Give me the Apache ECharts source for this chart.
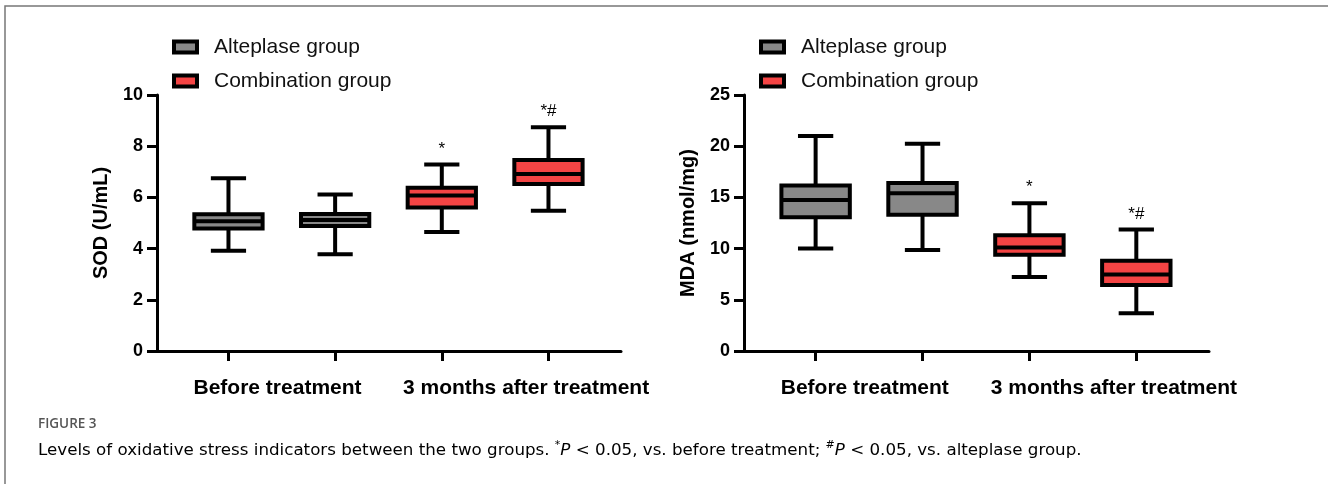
<!DOCTYPE html>
<html>
<head>
<meta charset="utf-8">
<script src="https://cdn.jsdelivr.net/npm/echarts@6.0.0/dist/echarts.min.js"></script>
<style>
    html, body { margin: 0; padding: 0; background: #fff; }
    #main { width: 1328px; height: 484px; }
</style>
</head>
<body>
<div id="main"></div>
<script>
    // box stats: [min, Q1, median, Q3, max]
    var groupNames = ['Alteplase group', 'Combination group'];
    var timeLabels = ['Before treatment', '3 months after treatment'];
    var labelPos = [0.46, 2.79];
    var boxPos = [0, 1, 2, 3];
    var boxGroup = [0, 0, 1, 1];
    var sigMarks = ['', '', '*', '*#'];

    var sodStats = [
        [3.92, 4.79, 5.07, 5.34, 6.75],
        [3.78, 4.88, 5.12, 5.35, 6.11],
        [4.65, 5.61, 6.07, 6.38, 7.29],
        [5.48, 6.52, 6.91, 7.46, 8.74]
    ];
    var mdaStats = [
        [10.0, 13.05, 14.75, 16.15, 21.0],
        [9.87, 13.3, 15.4, 16.4, 20.25],
        [7.22, 9.41, 10.1, 11.3, 14.44],
        [3.69, 6.44, 7.48, 8.82, 11.86]
    ];
    var sodTicks = [0, 10, 2];
    var mdaTicks = [0, 25, 5];

    var colors = ['#888888', '#f44444'];
    var fontMain = '"Liberation Sans", Arial, sans-serif';
    var fontCap = '"DejaVu Sans", sans-serif';

    function boxData(stats, g) {
        var out = [];
        for (var i = 0; i < stats.length; i++) {
            if (boxGroup[i] !== g) continue;
            out.push([boxPos[i]].concat(stats[i]).concat([sigMarks[i]]));
        }
        return out;
    }

    function renderBox(params, api) {
        var x = api.value(0);
        var lo = api.coord([x, api.value(1)]);
        var q1 = api.coord([x, api.value(2)]);
        var md = api.coord([x, api.value(3)]);
        var q3 = api.coord([x, api.value(4)]);
        var hi = api.coord([x, api.value(5)]);
        var unit = api.size([1, 0])[0];
        var bw = unit * 0.64;
        var cw = unit * 0.33;
        var cx = lo[0];
        var ls = { stroke: '#000', lineWidth: 4 };
        var kids = [
            { type: 'line', shape: { x1: cx, y1: hi[1], x2: cx, y2: q3[1] }, style: ls },
            { type: 'line', shape: { x1: cx, y1: q1[1], x2: cx, y2: lo[1] }, style: ls },
            { type: 'line', shape: { x1: cx - cw / 2, y1: hi[1], x2: cx + cw / 2, y2: hi[1] }, style: ls },
            { type: 'line', shape: { x1: cx - cw / 2, y1: lo[1], x2: cx + cw / 2, y2: lo[1] }, style: ls },
            { type: 'rect', shape: { x: cx - bw / 2, y: q3[1], width: bw, height: q1[1] - q3[1] },
              style: { fill: api.visual('color'), stroke: '#000', lineWidth: 4 } },
            { type: 'line', shape: { x1: cx - bw / 2, y1: md[1], x2: cx + bw / 2, y2: md[1] }, style: ls }
        ];
        var mark = api.value(6);
        if (mark) {
            kids.push({
                type: 'text', x: cx, y: hi[1] - 7,
                style: { text: mark, fill: '#000', font: '17px ' + fontMain, textAlign: 'center', textVerticalAlign: 'bottom' }
            });
        }
        return { type: 'group', children: kids };
    }

    function legendFor(left) {
        return {
            left: left, top: 35, orient: 'vertical', itemGap: 10, padding: 0,
            icon: 'rect', itemWidth: 23, itemHeight: 11,
            textStyle: { fontSize: 21, color: '#111', fontFamily: fontMain, lineHeight: 24, padding: [0, 0, 0, 12] },
            data: [
                { name: groupNames[0], itemStyle: { color: colors[0], borderColor: '#000', borderWidth: 4 } },
                { name: groupNames[1], itemStyle: { color: colors[1], borderColor: '#000', borderWidth: 4 } }
            ]
        };
    }

    function xAxisFor(gi) {
        return {
            type: 'value', gridIndex: gi, min: -0.67, max: 3.68,
            splitLine: { show: false },
            axisLine: { onZero: false, lineStyle: { color: '#000', width: 3 } },
            axisTick: { customValues: boxPos, length: 10, lineStyle: { color: '#000', width: 3 } },
            axisLabel: {
                customValues: labelPos, margin: 27,
                fontSize: 21, fontWeight: 'bold', color: '#000', fontFamily: fontMain,
                formatter: function (v) { return v < 1.5 ? timeLabels[0] : timeLabels[1]; }
            }
        };
    }

    function yAxisFor(gi, name, t) {
        return {
            type: 'value', gridIndex: gi, min: t[0], max: t[1], interval: t[2],
            name: name, nameLocation: 'middle', nameGap: 46,
            nameTextStyle: { fontSize: 20, fontWeight: 'bold', color: '#000', fontFamily: fontMain },
            splitLine: { show: false },
            axisLine: { show: true, onZero: false, lineStyle: { color: '#000', width: 3 } },
            axisTick: { show: true, length: 10, lineStyle: { color: '#000', width: 3 } },
            axisLabel: { margin: 14, fontSize: 18, fontWeight: 'bold', color: '#000', fontFamily: fontMain }
        };
    }

    function seriesFor(gi, stats) {
        return [0, 1].map(function (g) {
            return {
                name: groupNames[g], type: 'custom', xAxisIndex: gi, yAxisIndex: gi,
                itemStyle: { color: colors[g] },
                renderItem: renderBox,
                encode: { x: 0, y: [1, 2, 3, 4, 5] },
                data: boxData(stats, g)
            };
        });
    }

    var chart = echarts.init(document.getElementById('main'));

    var option = {
        animation: false,
        backgroundColor: '#fff',
        legend: [legendFor(172), legendFor(759)],
        grid: [
            { left: 157, top: 95, width: 464, height: 256 },
            { left: 744, top: 95, width: 465, height: 256 }
        ],
        xAxis: [xAxisFor(0), xAxisFor(1)],
        yAxis: [yAxisFor(0, 'SOD (U/mL)', sodTicks), yAxisFor(1, 'MDA (nmol/mg)', mdaTicks)],
        series: seriesFor(0, sodStats).concat(seriesFor(1, mdaStats)),
        graphic: [
            {
                type: 'polyline', silent: true,
                shape: { points: [[5, 484], [5, 6], [1328, 6]] },
                style: { stroke: '#777', lineWidth: 1.5, fill: null }
            },
            {
                type: 'text', left: 38, top: 417,
                style: { text: 'FIGURE 3', font: '600 13.5px "Open Sans", sans-serif', fill: '#555' }
            },
            {
                type: 'text', left: 38, top: 440,
                style: {
                    text: '{n|Levels of oxidative stress indicators between the two groups. }{s|*}{i|P}{n| < 0.05, vs. before treatment; }{s|#}{i|P}{n| < 0.05, vs. alteplase group.}',
                    rich: {
                        n: { fontSize: 16.7, fontFamily: fontCap, color: '#777', lineHeight: 22 },
                        i: { fontSize: 16.7, fontFamily: fontCap, fontStyle: 'italic', color: '#777', lineHeight: 22 },
                        s: { fontSize: 11, fontFamily: fontCap, color: '#777', lineHeight: 22, verticalAlign: 'top', padding: [0, 0, 6, 0] }
                    }
                }
            }
        ]
    };

    chart.setOption(option, true);
</script>
</body>
</html>
